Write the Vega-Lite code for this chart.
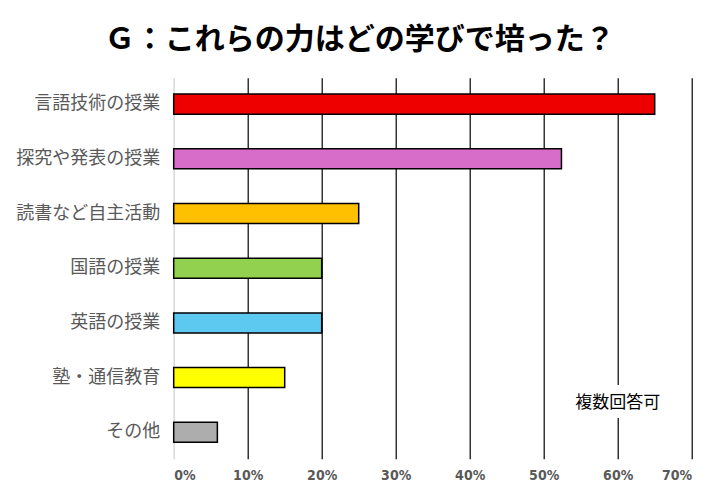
{
  "$schema": "https://vega.github.io/schema/vega-lite/v6.json",
  "autosize": {"type": "none"},
  "width": 518,
  "height": 381,
  "padding": {"left": 173.7, "top": 77.7, "right": 36.3, "bottom": 44.3},
  "background": "white",
  "title": {
    "text": "Ｇ：これらの力はどの学びで培った？",
    "font": "Noto Sans CJK JP",
    "fontSize": 30,
    "fontWeight": "bold",
    "color": "black",
    "anchor": "middle",
    "frame": "group",
    "dx": -73,
    "dy": 28,
    "baseline": "alphabetic",
    "offset": 27
  },
  "config": {
    "font": "Noto Sans CJK JP",
    "view": {"stroke": null}
  },
  "datasets": {
    "bars": [
      {"item": "言語技術の授業", "value": 0.65, "color": "#EE0000"},
      {"item": "探究や発表の授業", "value": 0.524, "color": "#D76DC8"},
      {"item": "読書など自主活動", "value": 0.25, "color": "#FFC000"},
      {"item": "国語の授業", "value": 0.2, "color": "#92D050"},
      {"item": "英語の授業", "value": 0.2, "color": "#5DC8F0"},
      {"item": "塾・通信教育", "value": 0.15, "color": "#FFFF00"},
      {"item": "その他", "value": 0.059, "color": "#ADADAD"}
    ],
    "note": [
      {"item": "その他", "value": 0.6, "label": "複数回答可"}
    ]
  },
  "layer": [
    {
      "data": {"name": "bars"},
      "mark": {"type": "bar", "stroke": "black", "strokeWidth": 1.5},
      "encoding": {
        "y": {
          "field": "item",
          "type": "nominal",
          "sort": null,
          "scale": {"paddingInner": 0.634, "paddingOuter": 0.3},
          "axis": {
            "title": null,
            "ticks": false,
            "domain": true,
            "domainColor": "#d9d9d9",
            "domainWidth": 1,
            "grid": false,
            "labelFontSize": 18,
            "labelColor": "#595959",
            "labelPadding": 14,
            "labelFont": "Noto Sans CJK JP",
            "labelLimit": 300
          }
        },
        "x": {
          "field": "value",
          "type": "quantitative",
          "scale": {"domain": [0, 0.7], "nice": false},
          "axis": {
            "title": null,
            "values": [0, 0.1, 0.2, 0.3, 0.4, 0.5, 0.6, 0.7],
            "format": ".0%",
            "ticks": false,
            "domain": false,
            "grid": true,
            "gridColor": {"condition": {"test": "datum.value === 0", "value": "#d9d9d9"}, "value": "black"},
            "gridOpacity": 1,
            "gridWidth": 1.2,
            "labelFont": "'DejaVu Sans Condensed', 'Liberation Sans Narrow', 'Arial Narrow', 'DejaVu Sans', sans-serif",
            "labelFontWeight": "bold",
            "labelFontSize": 14,
            "labelColor": "#595959",
            "labelPadding": 10
          }
        },
        "fill": {"field": "color", "type": "nominal", "scale": null}
      }
    },
    {
      "data": {"name": "note"},
      "mark": {"type": "text", "fontSize": 17, "dy": -29, "stroke": "white", "strokeWidth": 18, "strokeJoin": "round", "fill": "white"},
      "encoding": {
        "y": {"field": "item", "type": "nominal", "sort": null},
        "x": {"field": "value", "type": "quantitative"},
        "text": {"field": "label"}
      }
    },
    {
      "data": {"name": "note"},
      "mark": {"type": "text", "fontSize": 17, "dy": -29, "color": "black"},
      "encoding": {
        "y": {"field": "item", "type": "nominal", "sort": null},
        "x": {"field": "value", "type": "quantitative"},
        "text": {"field": "label"}
      }
    }
  ]
}
